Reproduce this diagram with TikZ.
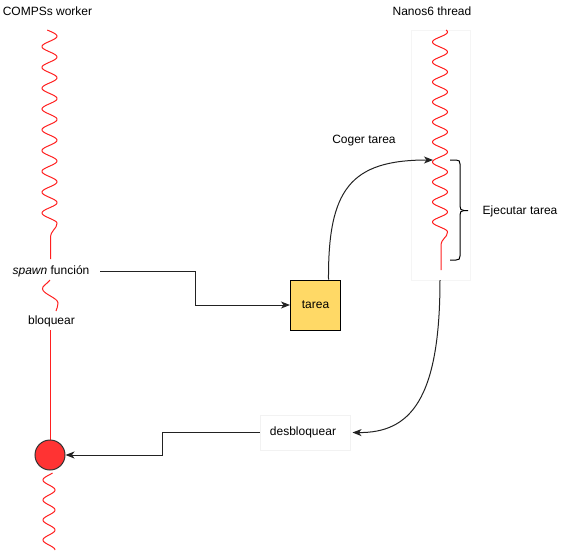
\documentclass[tikz,border=0pt]{standalone}
\usepackage{fontspec}
\setmainfont{Liberation Sans}
\usetikzlibrary{arrows.meta}
\definecolor{lifered}{HTML}{FF2020}
\definecolor{circred}{HTML}{FF3333}
\definecolor{tareafill}{HTML}{FFD966}
\definecolor{conncol}{HTML}{222222}
\tikzset{
  lbl/.style={inner sep=0pt, font=\fontsize{12}{14}\selectfont, text=black},
  life/.style={draw=lifered, line width=1pt},
  conn/.style={draw=conncol, line width=1pt, -{Stealth[length=9pt,width=7pt,inset=2.5pt]}},
  tareabox/.style={draw=black, fill=tareafill, line width=1pt, minimum width=50pt, minimum height=50pt, inner sep=0pt, font=\fontsize{12}{14}\selectfont},
  desbbox/.style={draw=black!5, fill=white, line width=1pt, minimum width=90pt, minimum height=35pt, inner sep=0pt, font=\fontsize{12}{14}\selectfont},
  stopcirc/.style={circle, draw=black!80, fill=circred, line width=1pt, minimum size=30pt, inner sep=0pt},
  framebox/.style={draw=black!4, line width=1pt}
}
\begin{document}
\begin{tikzpicture}[x=1pt,y=1pt]
\useasboundingbox (0,0) rectangle (571,-552);
% thread frame
\node[framebox, minimum width=59pt, minimum height=250pt, inner sep=0pt] (threadbox) at (440.5,-155) {};
% titles
\node[lbl] (worker) at (47.5,-11) {COMPSs worker};
\node[lbl] (thread) at (432,-11) {Nanos6 thread};
% left lifeline
\draw[life] plot[domain=30:223.4, samples=400, variable=\t] ({49.5+7.5*sin(17.3077*(\t-51.8))}, {-\t})
  .. controls (57,-229) and (50.5,-230) .. (50.5,-238) -- (50.5,-259);
\draw[life] (50,-280) .. controls (47,-284) and (42,-286) .. (42.5,-289)
  .. controls (43,-294) and (58,-298) .. (58,-303) .. controls (58,-306) and (57,-308) .. (56,-311);
\draw[life] (50.5,-330) -- (50.5,-440);
\node[stopcirc] (stop) at (50,-455) {};
\draw[life] plot[domain=473:550, samples=300, variable=\t] ({49+6*sin(18*(\t-485))}, {-\t});
% right lifeline
\draw[life] plot[domain=30:232, samples=400, variable=\t] ({440+7.5*sin(18*(\t-47))}, {-\t})
  .. controls (447.5,-238) and (441,-238) .. (441,-246) -- (441,-270);
% labels on left
\node[lbl, minimum width=98pt] (spawn) at (51,-271) {\textit{spawn} función};
\node[lbl] (bloq) at (51.5,-321) {bloquear};
% boxes
\node[tareabox] (tarea) at (315.5,-305) {tarea};
\node[desbbox] (desb) at (305,-432.5) {\hspace*{-4pt}desbloquear};
% brace and label
\draw[black, line width=1pt] (450,-160) -- (456,-160) .. controls (459,-160) and (460,-161) .. (460,-164)
  -- (460,-206) .. controls (460,-209) and (461,-210.5) .. (464,-210.5) -- (468,-210.5);
\draw[black, line width=1pt] (464,-210.5) .. controls (461,-210.5) and (460,-212) .. (460,-215)
  -- (460,-256) .. controls (460,-259) and (459,-260) .. (456,-260) -- (450,-260);
\node[lbl, anchor=west] (ejec) at (482.5,-211) {Ejecutar tarea};
\node[lbl] (coger) at (364,-141) {Coger tarea};
% connectors
\coordinate (takept) at (433,-160);
\coordinate (threadend) at (440,-280);
\draw[conn] (spawn.east) -- ++(95.5,0) |- (tarea.west);
\draw[conn] ([xshift=13pt]tarea.north) .. controls (328,-190) and (350,-160) .. (takept);
\draw[conn] (threadend) .. controls (440,-400) and (410,-433) .. ([xshift=2pt]desb.east);
\draw[conn] (desb.west) -- ++(-97,0) |- (stop.east);
\end{tikzpicture}
\end{document}
